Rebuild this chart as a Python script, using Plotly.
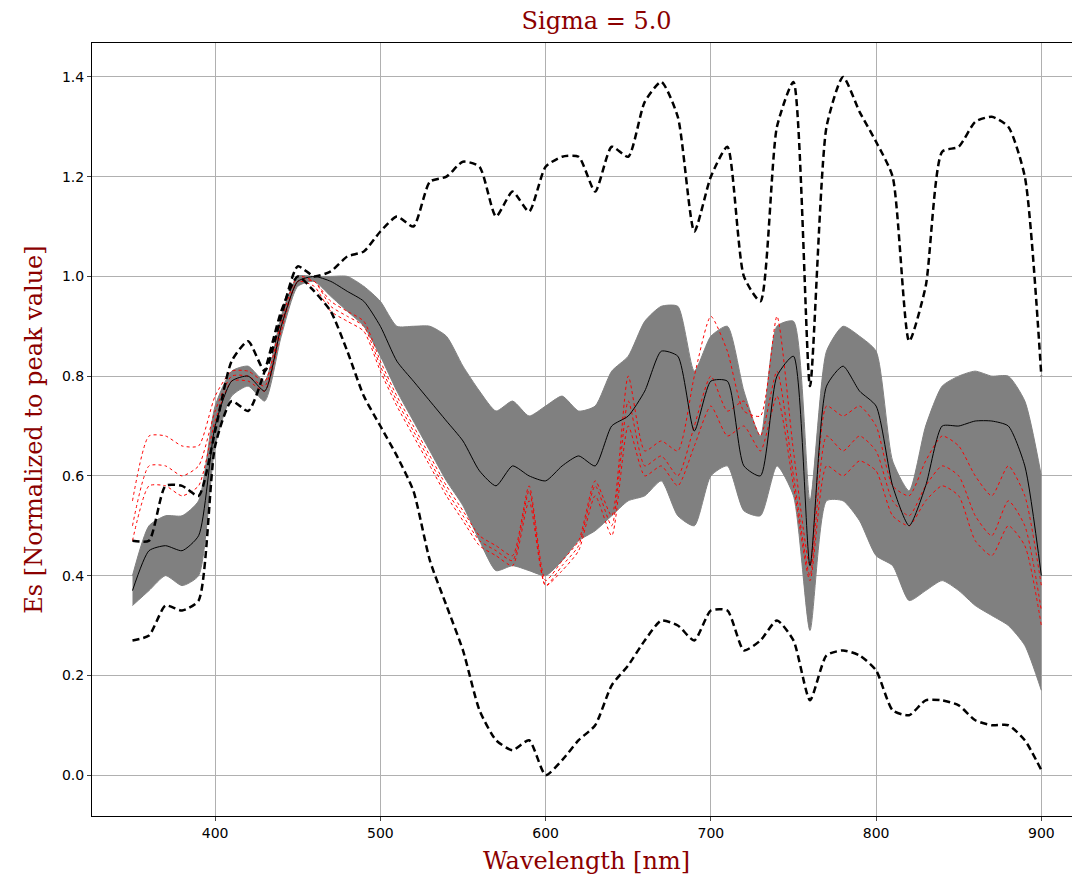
import plotly.graph_objects as go

wl = list(range(350, 901, 10))

upper_dash = [0.47, 0.47, 0.58, 0.58, 0.56, 0.69, 0.83, 0.87, 0.81, 0.92, 1.02, 1.00, 1.01, 1.04, 1.05,
              1.09, 1.12, 1.10, 1.19, 1.20, 1.23, 1.22, 1.12, 1.17, 1.13, 1.22, 1.24, 1.24, 1.17, 1.26,
              1.24, 1.35, 1.39, 1.32, 1.09, 1.20, 1.26, 1.00, 0.95, 1.30, 1.39, 0.78, 1.30, 1.40, 1.33,
              1.27, 1.20, 0.87, 0.98, 1.25, 1.26, 1.31, 1.32, 1.30, 1.20, 0.80]
lower_dash = [0.27, 0.28, 0.34, 0.33, 0.35, 0.66, 0.75, 0.73, 0.81, 0.93, 1.00, 0.97, 0.93, 0.85, 0.76,
              0.70, 0.64, 0.57, 0.43, 0.34, 0.25, 0.13, 0.07, 0.05, 0.07, 0.00, 0.03, 0.07, 0.10, 0.18,
              0.22, 0.27, 0.31, 0.30, 0.27, 0.33, 0.33, 0.25, 0.27, 0.31, 0.27, 0.15, 0.24, 0.25, 0.24,
              0.21, 0.13, 0.12, 0.15, 0.15, 0.14, 0.11, 0.10, 0.10, 0.07, 0.01]
mean_es = [0.37, 0.45, 0.46, 0.45, 0.48, 0.70, 0.79, 0.80, 0.77, 0.90, 0.99, 1.00, 0.99, 0.97, 0.95,
           0.90, 0.83, 0.79, 0.75, 0.71, 0.67, 0.61, 0.58, 0.62, 0.60, 0.59, 0.62, 0.64, 0.62, 0.70,
           0.72, 0.77, 0.85, 0.84, 0.69, 0.79, 0.79, 0.62, 0.60, 0.80, 0.84, 0.42, 0.78, 0.82, 0.77,
           0.74, 0.58, 0.50, 0.58, 0.70, 0.70, 0.71, 0.71, 0.70, 0.62, 0.40]
band_hi = [0.40, 0.50, 0.52, 0.52, 0.55, 0.74, 0.81, 0.82, 0.79, 0.92, 1.00, 1.00, 1.00, 1.00, 0.98,
           0.95, 0.90, 0.90, 0.90, 0.88, 0.82, 0.77, 0.73, 0.75, 0.72, 0.74, 0.76, 0.73, 0.74, 0.81,
           0.84, 0.91, 0.94, 0.94, 0.81, 0.88, 0.90, 0.77, 0.68, 0.90, 0.91, 0.55, 0.85, 0.90, 0.88,
           0.85, 0.63, 0.57, 0.70, 0.78, 0.80, 0.81, 0.80, 0.80, 0.75, 0.60]
band_lo = [0.34, 0.37, 0.40, 0.38, 0.40, 0.66, 0.76, 0.78, 0.75, 0.88, 0.98, 0.99, 0.96, 0.93, 0.90,
           0.84, 0.77, 0.71, 0.65, 0.59, 0.54, 0.47, 0.41, 0.42, 0.41, 0.40, 0.43, 0.47, 0.49, 0.52,
           0.55, 0.56, 0.59, 0.52, 0.50, 0.60, 0.62, 0.53, 0.52, 0.62, 0.56, 0.29, 0.55, 0.55, 0.51,
           0.44, 0.42, 0.35, 0.37, 0.39, 0.37, 0.34, 0.32, 0.30, 0.26, 0.17]
red_a = [0.50, 0.62, 0.62, 0.60, 0.62, 0.73, 0.80, 0.80, 0.78, 0.90, 0.99, 0.99, 0.94, 0.92, 0.90,
         0.82, 0.75, 0.69, 0.63, 0.57, 0.52, 0.47, 0.45, 0.43, 0.57, 0.38, 0.42, 0.46, 0.58, 0.50,
         0.75, 0.62, 0.64, 0.60, 0.70, 0.80, 0.73, 0.75, 0.68, 0.81, 0.60, 0.40, 0.68, 0.65, 0.68,
         0.65, 0.55, 0.52, 0.58, 0.62, 0.60, 0.52, 0.48, 0.55, 0.50, 0.33]
red_b = [0.55, 0.68, 0.68, 0.66, 0.66, 0.76, 0.81, 0.81, 0.79, 0.91, 1.00, 0.99, 0.95, 0.93, 0.91,
         0.83, 0.76, 0.70, 0.64, 0.58, 0.53, 0.48, 0.46, 0.44, 0.58, 0.39, 0.43, 0.47, 0.59, 0.52,
         0.80, 0.65, 0.67, 0.65, 0.80, 0.92, 0.85, 0.73, 0.72, 0.92, 0.65, 0.42, 0.74, 0.72, 0.74,
         0.70, 0.58, 0.56, 0.63, 0.68, 0.66, 0.60, 0.56, 0.62, 0.56, 0.38]
red_c = [0.47, 0.58, 0.58, 0.56, 0.58, 0.71, 0.79, 0.79, 0.77, 0.89, 0.99, 0.98, 0.93, 0.91, 0.89,
         0.81, 0.74, 0.68, 0.62, 0.56, 0.51, 0.46, 0.44, 0.42, 0.55, 0.38, 0.41, 0.45, 0.56, 0.48,
         0.70, 0.60, 0.62, 0.58, 0.66, 0.74, 0.68, 0.70, 0.65, 0.76, 0.58, 0.39, 0.62, 0.60, 0.63,
         0.61, 0.52, 0.50, 0.55, 0.58, 0.56, 0.47, 0.44, 0.50, 0.46, 0.30]

SM = 0.6  # spline smoothing, the source curves are gaussian-smoothed

fig = go.Figure()
fig.add_trace(go.Scatter(x=wl, y=band_lo, mode="lines",
                         line=dict(color="#808080", width=1, shape="spline", smoothing=SM)))
fig.add_trace(go.Scatter(x=wl, y=band_hi, mode="lines", fill="tonexty", fillcolor="#808080",
                         line=dict(color="#808080", width=1, shape="spline", smoothing=SM)))
for r in (red_a, red_b, red_c):
    fig.add_trace(go.Scatter(x=wl, y=r, mode="lines",
                             line=dict(color="red", width=1, dash="dot", shape="spline", smoothing=SM)))
fig.add_trace(go.Scatter(x=wl, y=mean_es, mode="lines",
                         line=dict(color="black", width=1, shape="spline", smoothing=SM)))
for d in (upper_dash, lower_dash):
    fig.add_trace(go.Scatter(x=wl, y=d, mode="lines",
                             line=dict(color="black", width=2.5, dash="7px,4px", shape="spline", smoothing=SM)))

axis = dict(showgrid=True, gridcolor="#b0b0b0", gridwidth=1, showline=True, linecolor="black",
            mirror=True, ticks="outside", ticklen=4, zeroline=False, automargin=False,
            tickfont=dict(family="DejaVu Sans", size=14, color="black"))
fig.update_layout(
    width=1080, height=889, showlegend=False,
    plot_bgcolor="white", paper_bgcolor="white",
    margin=dict(l=84, r=7, t=35, b=81),
    title=dict(text="Sigma = 5.0", x=0.545, xanchor="center", y=0.986, yanchor="middle",
               font=dict(family="DejaVu Serif", size=24, color="#8b0000")),
    xaxis=dict(axis, range=[325.5, 924], dtick=100,
               title=dict(text="Wavelength [nm]", standoff=12,
                          font=dict(family="DejaVu Serif", size=24, color="#8b0000"))),
    yaxis=dict(axis, range=[-0.082, 1.468], dtick=0.2, tickformat=".1f",
               title=dict(text="Es [Normalized to peak value]", standoff=12,
                          font=dict(family="DejaVu Serif", size=24, color="#8b0000"))),
)
fig.write_html("out.html")
